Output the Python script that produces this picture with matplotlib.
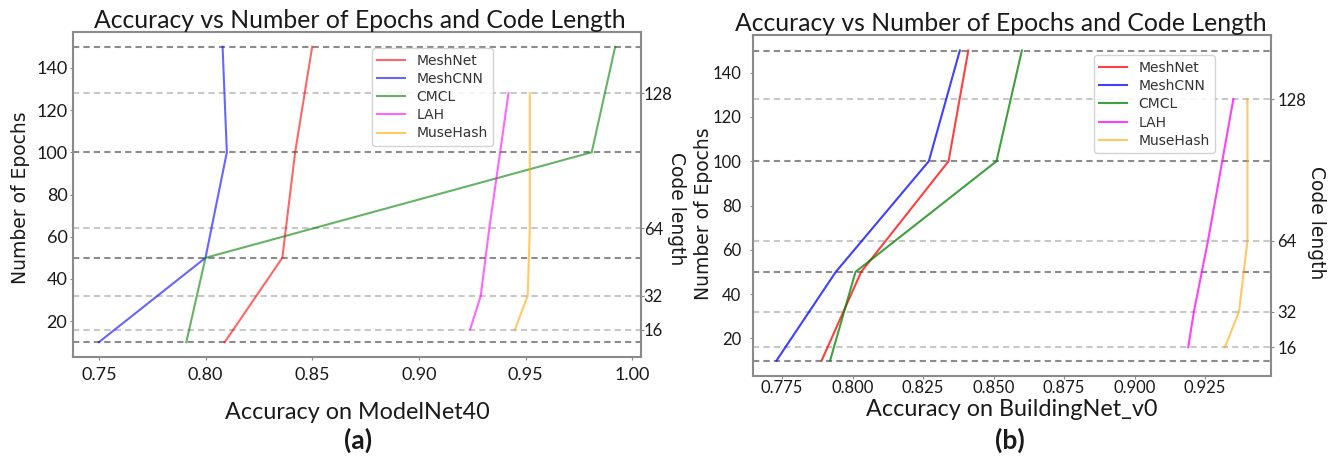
import matplotlib
matplotlib.use("Agg")
import matplotlib.pyplot as plt

plt.rcParams["font.family"] = ["Lato", "DejaVu Sans"]

# epochs drive the first three methods, code length the hashing methods
EPOCHS = [10, 50, 100, 150]
CODE_LENGTHS = [16, 32, 64, 128]

# (a) ModelNet40
MESHNET_A = [0.809, 0.836, 0.842, 0.850]
MESHCNN_A = [0.750, 0.800, 0.810, 0.808]
CMCL_A = [0.791, 0.800, 0.981, 0.992]
LAH_A = [0.924, 0.929, 0.933, 0.942]
MUSEHASH_A = [0.945, 0.951, 0.952, 0.952]

# (b) BuildingNet_v0
MESHNET_B = [0.789, 0.803, 0.834, 0.841]
MESHCNN_B = [0.773, 0.794, 0.827, 0.838]
CMCL_B = [0.792, 0.801, 0.851, 0.860]
LAH_B = [0.919, 0.921, 0.926, 0.935]
MUSEHASH_B = [0.932, 0.937, 0.940, 0.940]

TITLE = "Accuracy vs Number of Epochs and Code Length"
TEXT = "#1a1a1a"
SPINE = "#8a8a8a"
DARK_DASH = "#8c8c8c"
LIGHT_DASH = "#c8c8c8"
DASH = (0, (3, 2))


def draw_panel(ax, series, xlabel, alpha, legend_anchor, tick_size, title_x,
               xpad, lpad, rpad, xlabel_pad, ylabel_xy, code_xy):
    for e in EPOCHS:
        ax.axhline(e, color=DARK_DASH, ls=DASH, lw=1.5, zorder=1)
    for c in CODE_LENGTHS:
        ax.axhline(c, color=LIGHT_DASH, ls=DASH, lw=1.5, zorder=1)

    meshnet, meshcnn, cmcl, lah, musehash = series
    ax.plot(meshnet, EPOCHS, color="red", alpha=alpha, lw=1.5, label="MeshNet", zorder=3)
    ax.plot(meshcnn, EPOCHS, color="blue", alpha=alpha, lw=1.5, label="MeshCNN", zorder=3)
    ax.plot(cmcl, EPOCHS, color="green", alpha=alpha, lw=1.5, label="CMCL", zorder=3)
    ax.plot(lah, CODE_LENGTHS, color="magenta", alpha=alpha, lw=1.5, label="LAH", zorder=3)
    ax.plot(musehash, CODE_LENGTHS, color="orange", alpha=0.6, lw=1.5, label="MuseHash", zorder=3)

    ax.set_title(TITLE, fontsize=17.8, color=TEXT, pad=3, x=title_x)
    ax.set_xlabel(xlabel, fontsize=16.8, color=TEXT, labelpad=xlabel_pad)
    ax.set_ylabel("Number of Epochs", fontsize=13.5, color=TEXT,
                  family="DejaVu Sans", va="center")
    ax.yaxis.set_label_coords(*ylabel_xy)
    ax.tick_params(axis="x", labelsize=tick_size, colors=SPINE, labelcolor=TEXT,
                   length=2, pad=xpad)
    ax.tick_params(axis="y", labelsize=tick_size, colors=SPINE, labelcolor=TEXT,
                   length=2.5, pad=lpad)
    for s in ax.spines.values():
        s.set_color(SPINE)
        s.set_linewidth(1.5)

    leg = ax.legend(loc="upper left", bbox_to_anchor=legend_anchor, borderaxespad=0,
                    prop={"family": "DejaVu Sans", "size": 10},
                    labelspacing=0.3, handlelength=2.0, framealpha=0.85)
    for t in leg.get_texts():
        t.set_color("#333333")

    # code length axis shares the epoch scale
    ax2 = ax.twinx()
    ax2.set_ylim(ax.get_ylim())
    ax2.set_yticks(CODE_LENGTHS)
    ax2.set_ylabel("Code length", fontsize=13.5, color=TEXT, family="DejaVu Sans",
                   rotation=270, va="center")
    ax2.yaxis.set_label_coords(*code_xy)
    ax2.tick_params(labelsize=12, colors=SPINE, labelcolor=TEXT,
                    length=2, pad=rpad)
    for s in ax2.spines.values():
        s.set_visible(False)
    return ax2


fig = plt.figure(figsize=(13.3, 4.68), dpi=100)
ax_a = fig.add_axes([73 / 1330, 111 / 468, 568 / 1330, 325 / 468])
ax_b = fig.add_axes([753 / 1330, 92 / 468, 518 / 1330, 341 / 468])

draw_panel(ax_a, (MESHNET_A, MESHCNN_A, CMCL_A, LAH_A, MUSEHASH_A),
           "Accuracy on ModelNet40", 0.6, (0.526, 0.95), 13, 0.505,
           xpad=5, lpad=1.5, rpad=0, xlabel_pad=14,
           ylabel_xy=(-0.093, 0.489), code_xy=(1.063, 0.455))
draw_panel(ax_b, (MESHNET_B, MESHCNN_B, CMCL_B, LAH_B, MUSEHASH_B),
           "Accuracy on BuildingNet_v0", 0.75, (0.658, 0.94), 12, 0.478,
           xpad=1, lpad=6, rpad=2.5, xlabel_pad=2,
           ylabel_xy=(-0.095, 0.475), code_xy=(1.087, 0.449))

fig.text(358 / 1330, 1 - 440 / 468, "(a)", fontsize=19, fontweight="bold",
         color=TEXT, ha="center", va="center")
fig.text(1010 / 1330, 1 - 440 / 468, "(b)", fontsize=19, fontweight="bold",
         color=TEXT, ha="center", va="center")

fig.savefig("out.png", dpi=100)
